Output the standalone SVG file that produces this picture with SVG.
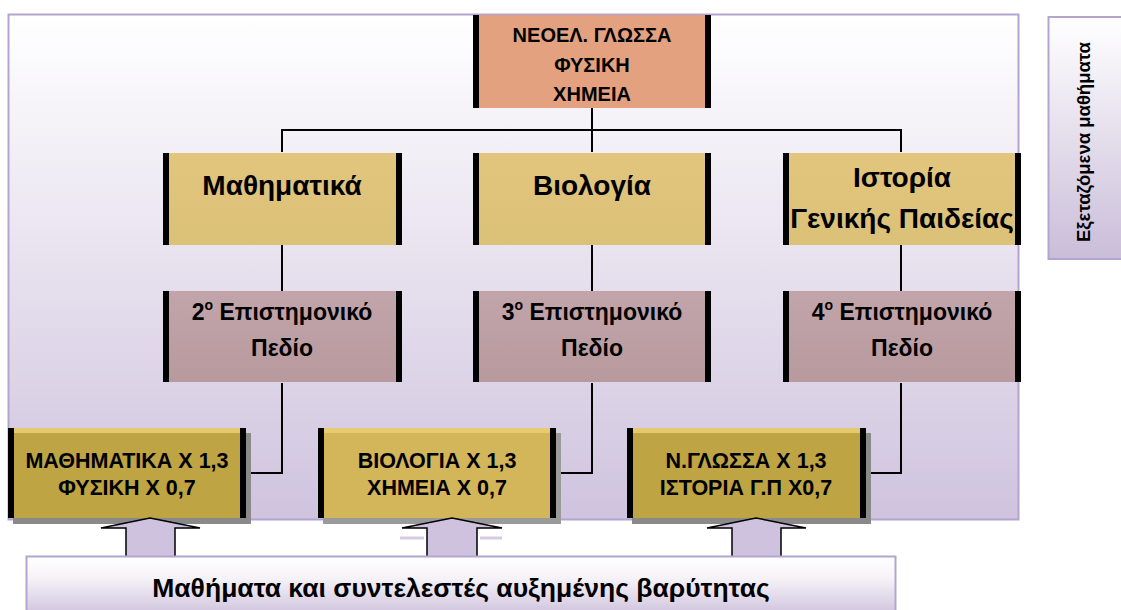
<svg xmlns="http://www.w3.org/2000/svg" width="1121" height="610" viewBox="0 0 1121 610">
<defs>
<linearGradient id="bg" x1="0" y1="0" x2="0" y2="1"><stop offset="0" stop-color="#ffffff"/><stop offset="1" stop-color="#cfc3de"/></linearGradient>
<linearGradient id="side" x1="0" y1="0" x2="0" y2="1"><stop offset="0" stop-color="#ffffff"/><stop offset="1" stop-color="#cabdd9"/></linearGradient>
<linearGradient id="banner" x1="0" y1="0" x2="0" y2="1"><stop offset="0" stop-color="#ffffff"/><stop offset="0.35" stop-color="#f6f3f8"/><stop offset="1" stop-color="#cdc1dc"/></linearGradient>
<linearGradient id="gold" x1="0" y1="0" x2="0" y2="1"><stop offset="0" stop-color="#e2c67e"/><stop offset="1" stop-color="#dbc078"/></linearGradient>
<linearGradient id="rose" x1="0" y1="0" x2="0" y2="1"><stop offset="0" stop-color="#c2a5aa"/><stop offset="1" stop-color="#b7999e"/></linearGradient>
</defs>
<style>
text{font-family:"Liberation Sans",Arial,sans-serif;font-weight:bold;fill:#000;text-anchor:middle}
.bar{fill:#000}
.line{stroke:#000;stroke-width:2;fill:none}
.t1{font-size:20px}
.t2{font-size:28px}
.t3{font-size:23px}
.t4{font-size:21.5px}
.sup{font-size:14px}
.arrow{fill:#cfc2de;stroke:#000;stroke-width:1.5}
</style>
<rect x="8.5" y="14.5" width="1010" height="505" fill="url(#bg)" stroke="#b3a5cf" stroke-width="2"/>
<g id="side-box">
<rect x="1048.5" y="17" width="80" height="242" fill="url(#side)" stroke="#b3a5cf" stroke-width="2"/>
<text transform="translate(1090,142) rotate(-90)" style="font-size:18.5px">Εξεταζόμενα μαθήματα</text>
</g>
<g id="connectors">
<path class="line" d="M592 108 V152 M282 152 V130 H901 V152"/>
<path class="line" d="M282 245 V291 M592 245 V291 M901 245 V291"/>
<path class="line" d="M282 383 V473 H250 M592 383 V473 H557 M901 383 V473 H871"/>
</g>
<g id="top">
<rect x="473" y="15" width="238" height="93" fill="#e3a17f"/>
<rect class="bar" x="473" y="15" width="6" height="93"/><rect class="bar" x="705" y="15" width="6" height="93"/>
<text class="t1" x="592" y="42">ΝΕΟΕΛ. ΓΛΩΣΣΑ</text>
<text class="t1" x="592" y="72">ΦΥΣΙΚΗ</text>
<text class="t1" x="592" y="101">ΧΗΜΕΙΑ</text>
</g>
<g id="math">
<rect x="163" y="153" width="239" height="92" fill="url(#gold)"/>
<rect class="bar" x="163" y="153" width="6" height="92"/><rect class="bar" x="396" y="153" width="6" height="92"/>
<text class="t2" x="282" y="195">Μαθηματικά</text>
</g>
<g id="bio">
<rect x="473" y="153" width="238" height="92" fill="url(#gold)"/>
<rect class="bar" x="473" y="153" width="6" height="92"/><rect class="bar" x="705" y="153" width="6" height="92"/>
<text class="t2" x="592" y="195">Βιολογία</text>
</g>
<g id="hist">
<rect x="783" y="153" width="238" height="92" fill="url(#gold)"/>
<rect class="bar" x="783" y="153" width="6" height="92"/><rect class="bar" x="1015" y="153" width="6" height="92"/>
<text class="t2" x="902" y="187">Ιστορία</text>
<text class="t2" x="902" y="228">Γενικής Παιδείας</text>
</g>
<g id="field2">
<rect x="163" y="291" width="239" height="91" fill="url(#rose)"/>
<rect class="bar" x="163" y="291" width="6" height="91"/><rect class="bar" x="396" y="291" width="6" height="91"/>
<text class="t3" x="282" y="320">2<tspan class="sup" dy="-10">ο</tspan><tspan dy="10"> Επιστημονικό</tspan></text>
<text class="t3" x="282" y="356">Πεδίο</text>
</g>
<g id="field3">
<rect x="473" y="291" width="238" height="91" fill="url(#rose)"/>
<rect class="bar" x="473" y="291" width="6" height="91"/><rect class="bar" x="705" y="291" width="6" height="91"/>
<text class="t3" x="592" y="320">3<tspan class="sup" dy="-10">ο</tspan><tspan dy="10"> Επιστημονικό</tspan></text>
<text class="t3" x="592" y="356">Πεδίο</text>
</g>
<g id="field4">
<rect x="783" y="291" width="238" height="91" fill="url(#rose)"/>
<rect class="bar" x="783" y="291" width="6" height="91"/><rect class="bar" x="1015" y="291" width="6" height="91"/>
<text class="t3" x="902" y="320">4<tspan class="sup" dy="-10">ο</tspan><tspan dy="10"> Επιστημονικό</tspan></text>
<text class="t3" x="902" y="356">Πεδίο</text>
</g>
<g id="coef1">
<rect x="13" y="433" width="238" height="91" fill="#8a8a8a"/>
<rect x="8" y="428" width="238" height="90" fill="#bea442"/>
<rect x="8" y="428" width="238" height="5" fill="#e6c86e"/>
<rect class="bar" x="8" y="428" width="6" height="90"/><rect class="bar" x="240" y="428" width="6" height="90"/>
<text class="t4" x="127" y="468">ΜΑΘΗΜΑΤΙΚΑ Χ 1,3</text>
<text class="t4" x="127" y="495">ΦΥΣΙΚΗ Χ 0,7</text>
</g>
<g id="coef2">
<rect x="323" y="433" width="238" height="91" fill="#9a9a9a"/>
<rect x="318" y="428" width="238" height="90" fill="#d4b65a"/>
<rect x="318" y="428" width="238" height="5" fill="#e8ca70"/>
<rect class="bar" x="318" y="428" width="6" height="90"/><rect class="bar" x="550" y="428" width="6" height="90"/>
<text class="t4" x="437" y="468">ΒΙΟΛΟΓΙΑ Χ 1,3</text>
<text class="t4" x="437" y="495">ΧΗΜΕΙΑ Χ 0,7</text>
</g>
<g id="coef3">
<rect x="632" y="433" width="239" height="91" fill="#8a8a8a"/>
<rect x="627" y="428" width="239" height="90" fill="#bea442"/>
<rect x="627" y="428" width="239" height="5" fill="#e6c86e"/>
<rect class="bar" x="627" y="428" width="6" height="90"/><rect class="bar" x="860" y="428" width="6" height="90"/>
<text class="t4" x="746" y="468">Ν.ΓΛΩΣΣΑ Χ 1,3</text>
<text class="t4" x="746" y="495">ΙΣΤΟΡΙΑ Γ.Π Χ0,7</text>
</g>
<g id="arrows">
<path class="arrow" d="M150 518 L200 528 H175 V557 H126 V528 H101 Z"/>
<path d="M400 538 H424 M480 538 H502" stroke="#cbbfdc" stroke-width="3" opacity="0.8"/>
<path class="arrow" d="M452 518 L502 528 H477 V557 H427 V528 H402 Z"/>
<path class="arrow" d="M756 518 L806 528 H781 V557 H732 V528 H707 Z"/>
</g>
<g id="banner">
<rect x="26.5" y="556.5" width="869" height="60" fill="url(#banner)" stroke="#b3a5cf" stroke-width="2"/>
<text x="461" y="597" style="font-size:26.5px">Μαθήματα και συντελεστές αυξημένης βαρύτητας</text>
</g>
</svg>
